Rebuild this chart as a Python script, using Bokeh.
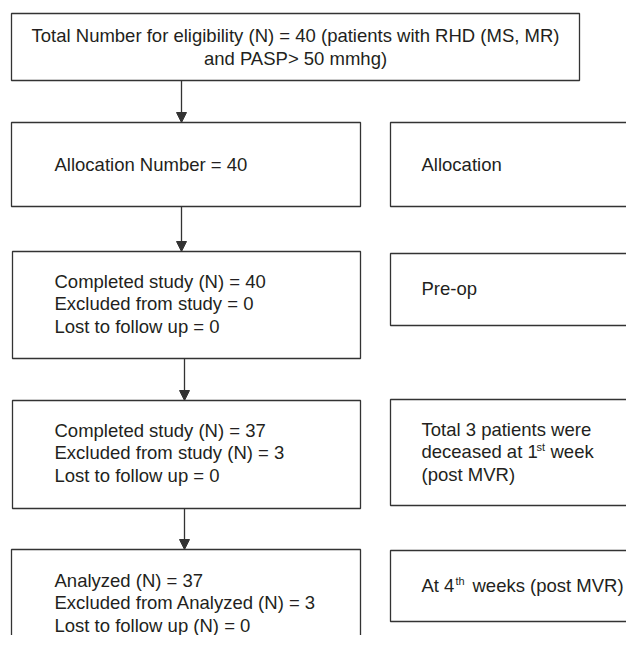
from bokeh.plotting import figure
from bokeh.models import Range1d, ColumnDataSource, Arrow, NormalHead
from bokeh.core.properties import value
from bokeh.embed import file_html
from bokeh.resources import INLINE

# ---- content (texts of the flow chart) ----
top_lines = ["Total Number for eligibility (N) = 40 (patients with RHD (MS, MR)",
             "and PASP> 50 mmhg)"]
left_lines = [
    ["Allocation Number = 40"],
    ["Completed study (N) = 40", "Excluded from study = 0", "Lost to follow up = 0"],
    ["Completed study (N) = 37", "Excluded from study (N) = 3", "Lost to follow up = 0"],
    ["Analyzed (N) = 37", "Excluded from Analyzed (N) = 3", "Lost to follow up (N) = 0"],
]
right_lines_plain = [["Allocation"], ["Pre-op"], ["Total 3 patients were", None, "(post MVR)"], [None]]
# rich lines with superscripts: (before, sup, after)
rich_1 = ("deceased at 1", "st", "week")
rich_2 = ("At 4", "th", "weeks (post MVR)")

# ---- layout (page pixel coordinates) ----
FONT = value("Liberation Sans")
FS = "18.5px"
SUP = "11px"
TXT = "#231f20"
LINE = "#333333"
LH = 22.5

top_box = dict(left=11, right=579, top=13, bottom=80)
left_boxes = dict(left=[11, 12, 12, 11], right=[360, 360, 360, 360],
                  top=[122, 251, 400, 549], bottom=[206, 358, 508, 680])
right_boxes = dict(left=[390, 390, 390, 390], right=[700, 700, 700, 700],
                   top=[122, 253, 399, 550], bottom=[206, 325, 505, 621])
arrow_x = [181, 181, 184, 184]
arrow_y0 = [80, 206, 358, 508]
arrow_y1 = [122, 251, 400, 549]

p = figure(width=626, height=635, output_backend="svg", toolbar_location=None,
           x_range=Range1d(0, 626), y_range=Range1d(635, 0),
           x_axis_type=None, y_axis_type=None, min_border=0)
p.grid.visible = False
p.outline_line_color = None
p.background_fill_color = "white"
p.border_fill_color = "white"

# boxes
p.quad(left=[top_box["left"]], right=[top_box["right"]], top=[top_box["top"]],
       bottom=[top_box["bottom"]], fill_color=None, line_color=LINE, line_width=1.3)
p.quad(source=ColumnDataSource(left_boxes), left="left", right="right", top="top",
       bottom="bottom", fill_color=None, line_color=LINE, line_width=1.3)
p.quad(source=ColumnDataSource(right_boxes), left="left", right="right", top="top",
       bottom="bottom", fill_color=None, line_color=LINE, line_width=1.3)

# arrows
asrc = ColumnDataSource(dict(x0=arrow_x, y0=arrow_y0, x1=arrow_x, y1=arrow_y1))
p.add_layout(Arrow(source=asrc, x_start="x0", y_start="y0", x_end="x1", y_end="y1",
                   line_color=LINE, line_width=1.3,
                   end=NormalHead(size=10, fill_color=LINE, line_color=LINE, line_width=1)))

# texts
tx, ty, tt, ta = [], [], [], []
ctop = (top_box["top"] + top_box["bottom"]) / 2
for i, s in enumerate(top_lines):
    tx.append((top_box["left"] + top_box["right"]) / 2)
    ty.append(ctop + (i - (len(top_lines) - 1) / 2) * LH)
    tt.append(s)
    ta.append("center")

text_left_x = 54
text_right_x = 421
left_centers = [164, 303, 452, 602]
right_centers = [164, 288, 451, 585]
for lines, cy in zip(left_lines, left_centers):
    n = len(lines)
    for i, s in enumerate(lines):
        tx.append(text_left_x); ty.append(cy + (i - (n - 1) / 2) * LH); tt.append(s); ta.append("left")
for lines, cy in zip(right_lines_plain, right_centers):
    n = len(lines)
    for i, s in enumerate(lines):
        if s is None:
            continue
        tx.append(text_right_x); ty.append(cy + (i - (n - 1) / 2) * LH); tt.append(s); ta.append("left")

# rich lines (base parts)
r1y = right_centers[2]
r2y = right_centers[3]
tx += [text_right_x, 550, text_right_x, 472]
ty += [r1y, r1y, r2y, r2y]
tt += [rich_1[0], rich_1[2], rich_2[0], rich_2[2]]
ta += ["left"] * 4

p.text(x=tx, y=ty, text=tt, text_align=ta, text_baseline="middle",
       text_font=FONT, text_font_size=FS, text_color=TXT)

# superscripts
p.text(x=[536, 455], y=[r1y - 5, r2y - 5], text=[rich_1[1], rich_2[1]],
       text_align="left", text_baseline="middle",
       text_font=FONT, text_font_size=SUP, text_color=TXT)

open("out.html", "w").write(file_html(p, INLINE))
